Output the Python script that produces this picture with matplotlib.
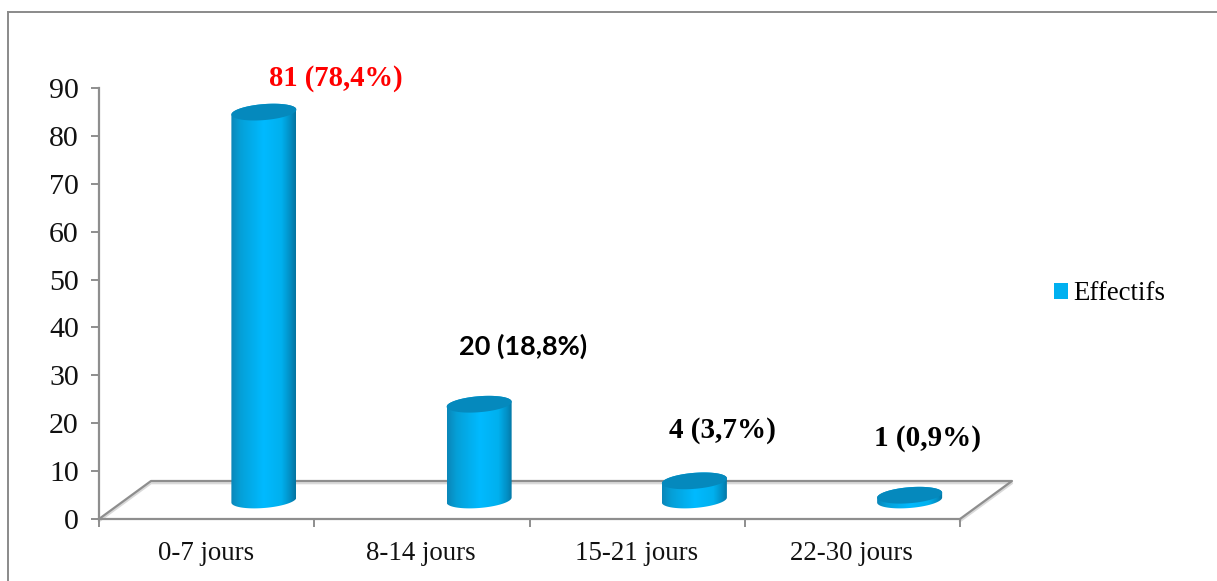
import numpy as np
import matplotlib
matplotlib.use("Agg")
import matplotlib.pyplot as plt
from matplotlib.colors import LinearSegmentedColormap
from matplotlib.lines import Line2D
from matplotlib.patches import Patch, Polygon

categories = ["0-7 jours", "8-14 jours", "15-21 jours", "22-30 jours"]
effectifs = [81, 20, 4, 1]
value_labels = ["81 (78,4%)", "20 (18,8%)", "4 (3,7%)", "1 (0,9%)"]
y_ticks = [0, 10, 20, 30, 40, 50, 60, 70, 80, 90]

W, H = 1217, 581
SERIF = "Liberation Serif"
GREY = "#8E8E8E"
GREY_SOFT = "#D9D9D9"

fig = plt.figure(figsize=(W / 100, H / 100), dpi=100, facecolor="white")

# outer chart frame, open on the cropped right and bottom sides
for xs, ys in (([8, 8], [581, 12]), ([8, 1217], [12, 12])):
    fig.add_artist(Line2D([x / W for x in xs], [1 - y / H for y in ys],
                          color="#8A8A8A", lw=1.4, transform=fig.transFigure))

ax = fig.add_axes([99 / W, 1 - 519 / H, 861 / W, 431 / H])
ax.patch.set_alpha(0)
for name in ("top", "right"):
    ax.spines[name].set_visible(False)
for name in ("left", "bottom"):
    ax.spines[name].set_color(GREY)
    ax.spines[name].set_linewidth(1.6)

# pixel lengths expressed in data units
px_x = 4 / 861
px_y = 90 / 431

# floor of the pseudo-3D plot area
depth_x, depth_y = 52 * px_x, 38 * px_y
floor_x = [0, depth_x, 4 + depth_x, 4]
floor_y = [0, depth_y, depth_y, 0]
ax.plot(floor_x, [y - 2.2 * px_y for y in floor_y], color=GREY_SOFT, lw=1.6,
        zorder=1, clip_on=False)
ax.plot(floor_x, floor_y, color=GREY, lw=1.6, zorder=1.5, clip_on=False)

shade = LinearSegmentedColormap.from_list(
    "cylinder",
    [(0.0, "#0B86B8"), (0.15, "#05A0D8"), (0.5, "#00BAFF"),
     (0.78, "#00B0EE"), (0.92, "#038DC2"), (1.0, "#05739F")],
)
gradient = np.linspace(0, 1, 256)[None, :]

half_w, ell_h, skew = 32.5, 8.0, 2.5
base_level = 19 * px_y
offset_x = 0.766
angles_low = np.linspace(np.pi, 2 * np.pi, 60)
angles_all = np.linspace(0, 2 * np.pi, 120)


def rim(cx, cy, t):
    """Points of a sheared ellipse centred on (cx, cy), in data units."""
    return np.column_stack([
        cx + half_w * np.cos(t) * px_x,
        cy + (ell_h * np.sin(t) + skew * np.cos(t)) * px_y,
    ])


for i, value in enumerate(effectifs):
    cx = i + offset_x
    top = base_level + value
    lower = rim(cx, base_level, angles_low)
    upper = rim(cx, top, np.linspace(0, np.pi, 60))
    outline = Polygon(np.vstack([lower, upper]), closed=True,
                      transform=ax.transData, fc="none", ec="none")
    ax.add_patch(outline)
    body = ax.imshow(gradient, cmap=shade, aspect="auto", zorder=3,
                     extent=(cx - half_w * px_x, cx + half_w * px_x, 0, top + 4),
                     interpolation="bilinear")
    body.set_clip_path(outline)
    ax.add_patch(Polygon(rim(cx, top, angles_all), closed=True, fc="#0589BD",
                         ec="none", zorder=4))

ax.set_xlim(0, 4)
ax.set_ylim(0, 90)

ax.set_yticks(y_ticks)
ax.set_xticks(range(5))
ax.set_xticklabels([])
ax.tick_params(axis="both", color=GREY, width=1.4, length=6)
ax.tick_params(axis="y", labelsize=21.5, pad=8.5)
for tick in ax.get_yticklabels():
    tick.set_fontfamily(SERIF)
    tick.set_color("#111111")

for i, name in enumerate(categories):
    ax.annotate(name, (i + 0.5, 0), xytext=(-1, -34), textcoords="offset pixels",
                ha="center", va="center", fontfamily=SERIF, fontsize=19.4, color="#111111",
                annotation_clip=False)

# value labels sit by hand above each cylinder
label_pos = [(335.5, 78), (523, 346), (722.5, 430), (927.5, 438)]
label_style = [
    dict(color="#FF0000", fontfamily=SERIF, fontsize=20.6),
    dict(color="black", fontfamily="Lato", fontsize=19.5),
    dict(color="black", fontfamily=SERIF, fontsize=21),
    dict(color="black", fontfamily=SERIF, fontsize=21),
]
for text, (px, py), style in zip(value_labels, label_pos, label_style):
    fig.text(px / W, 1 - py / H, text, ha="center", va="center", fontweight="bold", **style)

handle = Patch(facecolor="#00B0F0", edgecolor="none", label="Effectifs")
fig.legend(handles=[handle], loc="center left", bbox_to_anchor=(1048.5 / W, 1 - 294 / H),
           frameon=False, handlelength=0.52, handleheight=0.52, handletextpad=0.22,
           borderpad=0.2, borderaxespad=0,
           prop={"family": SERIF, "size": 19.3})

fig.savefig("out.png", dpi=100)
